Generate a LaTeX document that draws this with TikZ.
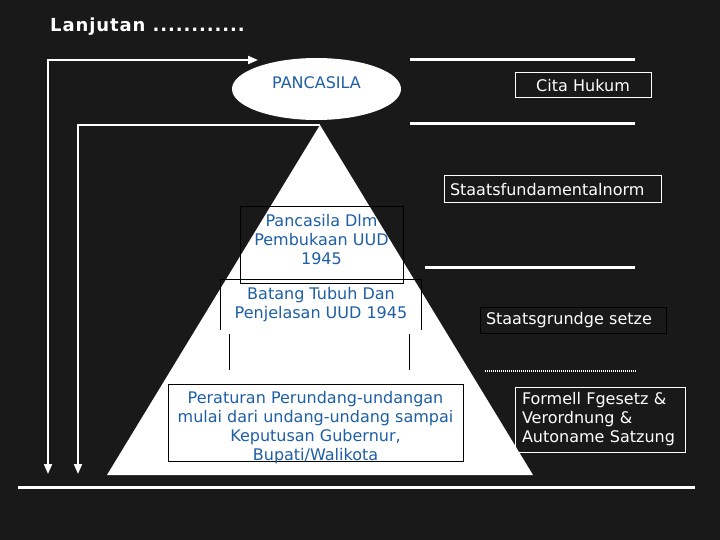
\documentclass[tikz,border=0pt]{standalone}
\usepackage{fontspec}
\setmainfont{DejaVu Sans}
\usetikzlibrary{shapes.geometric,arrows.meta}
\definecolor{slidebg}{RGB}{25,25,25}
\definecolor{textblue}{RGB}{30,95,165}
\begin{document}
\begin{tikzpicture}[x=1pt,y=-1pt,
    normtext/.style={font=\fontsize{16}{19}\selectfont},
    bluetext/.style={normtext,text=textblue,align=center,inner sep=0pt},
    whitebox/.style={normtext,draw=white,text=white,line width=1pt,inner xsep=6pt,inner ysep=0pt},
    blackline/.style={black,line width=0.8pt},
    rule/.style={white,line width=3pt},
    arrowline/.style={white,line width=2pt,>={Triangle[width=8pt,length=10pt]}}]
        \fill[slidebg] (0,0) rectangle (720,540);

        \node[anchor=base west,inner sep=0pt,text=white,font=\fontsize{18}{22}\selectfont\bfseries\addfontfeature{LetterSpace=5}] (title) at (50,32) {Lanjutan ............};

        \coordinate (apex) at (320,125);
        \coordinate (outertop) at (258,60);
        \coordinate (outerend) at (48,474);
        \coordinate (innerend) at (78,474);
        \draw[arrowline,<->] (outertop) -| (outerend);
        \draw[arrowline,->] (apex) -| (innerend);

        \fill[white] (apex) -- (107,475) -- (533,475) -- cycle;

        \node[ellipse,fill=white,minimum width=169,minimum height=62,inner sep=0pt] (pancasila) at (316.5,89) {};
        \node[bluetext] (pancasilatext) at ([yshift=6.5pt]pancasila.center) {PANCASILA};

        \node[draw=black,line width=0.8pt,minimum width=163,minimum height=77,inner sep=0pt] (pembukaan) at (321.5,244.5) {};
        \node[bluetext] (pembukaantext) at ([yshift=4.5pt]pembukaan.center) {Pancasila Dlm\\Pembukaan UUD\\1945};
        \node[bluetext,minimum width=200,minimum height=50] (batang) at (321,305) {Batang Tubuh Dan\\Penjelasan UUD 1945};
        \draw[blackline] (batang.south west) |- (batang.north east) -- (batang.south east);
        \draw[blackline] (229,334) -- (229,370);
        \draw[blackline] (409,334) -- (409,370);

        \node[draw=black,line width=0.8pt,minimum width=295,minimum height=77,inner sep=0pt] (peraturan) at (315.5,422.5) {};
        \node[bluetext] (peraturantext) at ([yshift=-5pt]peraturan.center) {Peraturan Perundang-undangan\\mulai dari undang-undang sampai\\Keputusan Gubernur,\\Bupati/Walikota};

        \draw[rule] (410,60) -- (635,60);
        \draw[rule] (410,124) -- (635,124);
        \draw[rule] (425,267) -- (635,267);
        \draw[white,line width=2.5pt,dash pattern=on 1.2pt off 0.8pt] (485,371) -- (636,371);
        \draw[white,line width=3pt] (18,487) -- (695,487);

        \node[whitebox,minimum width=136,minimum height=25,text width=124,align=center] (citahukum) at (583,85.5) {Cita Hukum};
        \node[whitebox,minimum width=217,minimum height=27,text width=205,align=left] (fundamental) at (552.5,189.5) {Staatsfundamentalnorm};
        \node[whitebox,draw=black,minimum width=186,minimum height=26,text width=174,align=left] (grundgesetze) at (573,320) {Staatsgrundge setze};
        \node[whitebox,inner xsep=7pt,minimum width=170,minimum height=65,text width=156,align=left] (formell) at (600,419.5) {Formell Fgesetz \&\\Verordnung \&\\Autoname Satzung};
    \end{tikzpicture}
\end{document}
